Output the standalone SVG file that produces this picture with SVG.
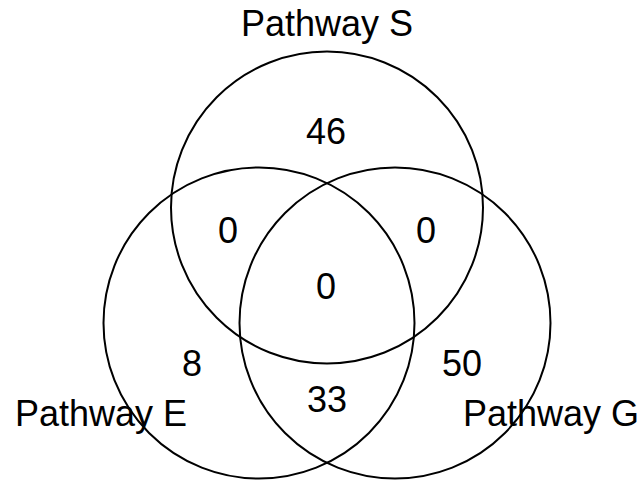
<svg xmlns="http://www.w3.org/2000/svg" width="644" height="480" viewBox="0 0 644 480">
<style>
.set{fill:none;stroke:#000;stroke-width:2}
text{font-family:"Liberation Sans",Arial,sans-serif;font-size:36px;fill:#000}
.c{text-anchor:middle}
</style>
<rect width="644" height="480" fill="#fff"/>
<g id="setS"><circle class="set" cx="327" cy="207.5" r="156"/><text class="c" x="327" y="36">Pathway S</text></g>
<g id="setE"><circle class="set" cx="259" cy="323" r="155.5"/><text x="15" y="426">Pathway E</text></g>
<g id="setG"><circle class="set" cx="395" cy="323" r="155.5"/><text x="463" y="426">Pathway G</text></g>
<g id="counts">
<text class="c" x="326" y="144">46</text>
<text class="c" x="228" y="243">0</text>
<text class="c" x="426" y="243">0</text>
<text class="c" x="326" y="299">0</text>
<text class="c" x="192" y="376">8</text>
<text class="c" x="462" y="376">50</text>
<text class="c" x="327" y="412">33</text>
</g>
</svg>
